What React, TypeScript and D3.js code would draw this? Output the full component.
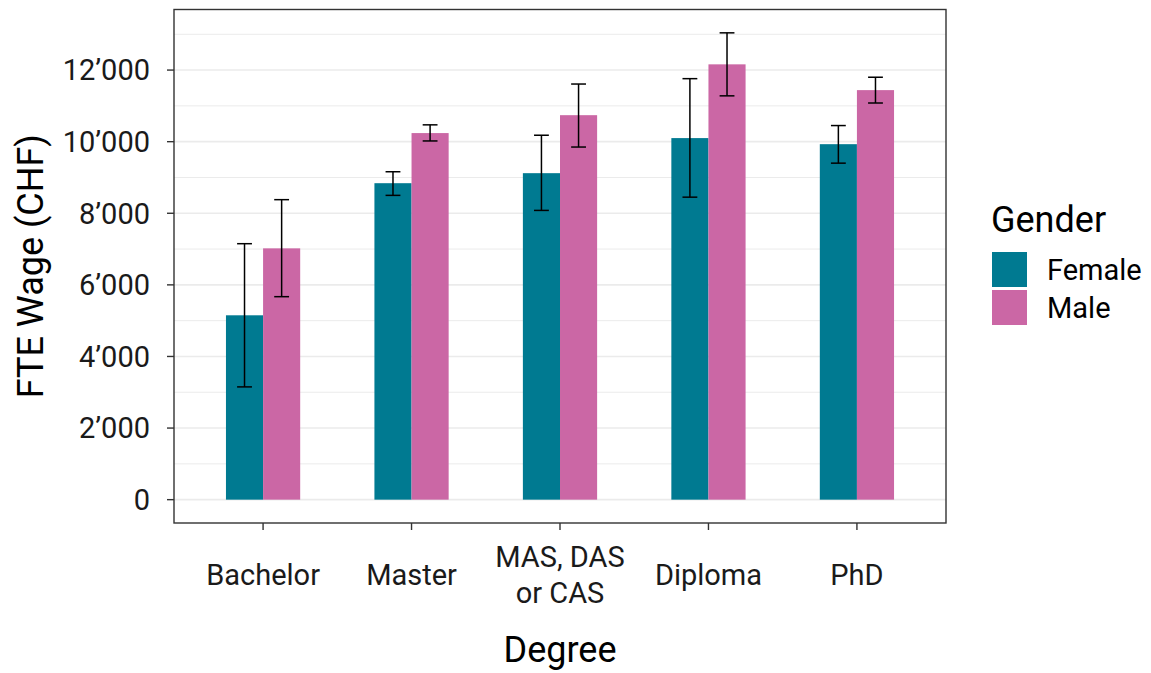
import React from "react";
import * as d3 from "d3";

const categories = ["Bachelor", "Master", "MAS, DAS\nor CAS", "Diploma", "PhD"];
const genders = ["Female", "Male"];
const genderColors = ["#007A91", "#CB67A5"];

const femaleMean = [5150, 8840, 9120, 10100, 9930];
const femaleLow = [3150, 8500, 8080, 8450, 9400];
const femaleHigh = [7150, 9160, 10180, 11760, 10450];

const maleMean = [7020, 10240, 10740, 12160, 11440];
const maleLow = [5670, 10020, 9850, 11280, 11080];
const maleHigh = [8380, 10470, 11610, 13040, 11800];

const yTicks = [0, 2000, 4000, 6000, 8000, 10000, 12000];
const yMinor = [1000, 3000, 5000, 7000, 9000, 11000, 13000];

const W = 1151;
const H = 673;
const panel = { left: 174, right: 946, top: 9.5, bottom: 523 };
const FONT = "Roboto, 'Noto Sans', sans-serif";

const locale = d3.formatLocale({ decimal: ".", thousands: "\u2019", grouping: [3], currency: ["", ""] });
const fmt = locale.format(",d");

export default function App() {
  const series = [
    { key: genders[0], mean: femaleMean, low: femaleLow, high: femaleHigh, color: genderColors[0] },
    { key: genders[1], mean: maleMean, low: maleLow, high: maleHigh, color: genderColors[1] },
  ];
  const dataMax = d3.max([...femaleHigh, ...maleHigh]) as number;
  const dataMin = 0;
  const span = dataMax - dataMin;
  const y = d3
    .scaleLinear()
    .domain([dataMin - 0.05 * span, dataMax + 0.05 * span])
    .range([panel.bottom, panel.top]);
  const x = d3.scalePoint<string>().domain(categories).range([panel.left, panel.right]).padding(0.6);
  const step = x.step();
  const inner = d3.scaleBand<string>().domain(genders).range([-0.25 * step, 0.25 * step]);
  const bw = inner.bandwidth();
  const whisker = 0.1 * step;

  return (
    <svg width={W} height={H} style={{ position: "absolute", left: 0, top: 0, background: "#fff" }} fontFamily={FONT}>
      <rect x={0} y={0} width={W} height={H} fill="#fff" />
      {/* grid */}
      {yMinor.map((t) => (
        <line key={"mi" + t} x1={panel.left} x2={panel.right} y1={y(t)} y2={y(t)} stroke="#EBEBEB" strokeWidth={1} />
      ))}
      {yTicks.map((t) => (
        <line key={"ma" + t} x1={panel.left} x2={panel.right} y1={y(t)} y2={y(t)} stroke="#EBEBEB" strokeWidth={1.6} />
      ))}
      {/* bars */}
      {series.map((s) =>
        categories.map((c, i) => {
          const cx = (x(c) as number) + (inner(s.key) as number);
          return (
            <rect
              key={s.key + c}
              x={cx}
              y={y(s.mean[i])}
              width={bw}
              height={y(0) - y(s.mean[i])}
              fill={s.color}
            />
          );
        })
      )}
      {/* error bars */}
      {series.map((s) =>
        categories.map((c, i) => {
          const cx = (x(c) as number) + (inner(s.key) as number) + bw / 2;
          return (
            <g key={"e" + s.key + c} stroke="#000" strokeWidth={1.5}>
              <line x1={cx} x2={cx} y1={y(s.low[i])} y2={y(s.high[i])} />
              <line x1={cx - whisker / 2} x2={cx + whisker / 2} y1={y(s.low[i])} y2={y(s.low[i])} />
              <line x1={cx - whisker / 2} x2={cx + whisker / 2} y1={y(s.high[i])} y2={y(s.high[i])} />
            </g>
          );
        })
      )}
      {/* panel border */}
      <rect
        x={panel.left}
        y={panel.top}
        width={panel.right - panel.left}
        height={panel.bottom - panel.top}
        fill="none"
        stroke="#333333"
        strokeWidth={1.4}
      />
      {/* y axis */}
      {yTicks.map((t) => (
        <g key={"yt" + t}>
          <line x1={panel.left - 7} x2={panel.left} y1={y(t)} y2={y(t)} stroke="#333333" strokeWidth={1.4} />
          <text x={panel.left - 24} y={y(t)} dy="0.355em" textAnchor="end" fontSize={29} fill="#1a1a1a">
            {fmt(t)}
          </text>
        </g>
      ))}
      {/* x axis */}
      {categories.map((c) => {
        const lines = c.split("\n");
        const lh = 36;
        const cy = 575;
        return (
          <g key={"xt" + c}>
            <line x1={x(c)} x2={x(c)} y1={panel.bottom} y2={panel.bottom + 7} stroke="#333333" strokeWidth={1.4} />
            {lines.map((l, j) => (
              <text
                key={j}
                x={x(c)}
                y={cy + (j - (lines.length - 1) / 2) * lh}
                dy="0.355em"
                textAnchor="middle"
                fontSize={29}
                fill="#1a1a1a"
              >
                {l}
              </text>
            ))}
          </g>
        );
      })}
      {/* axis titles */}
      <text x={(panel.left + panel.right) / 2} y={662} textAnchor="middle" fontSize={36} fill="#000">
        Degree
      </text>
      <text
        transform={`translate(${43},${(panel.top + panel.bottom) / 2}) rotate(-90)`}
        textAnchor="middle"
        fontSize={36}
        fill="#000"
      >
        FTE Wage (CHF)
      </text>
      {/* legend */}
      <text x={991} y={231.5} fontSize={36} fill="#000">
        Gender
      </text>
      {series.map((s, i) => (
        <g key={"lg" + s.key}>
          <rect x={992} y={252 + i * 38} width={35} height={35} fill={s.color} />
          <text x={1047} y={252 + i * 38 + 17.5} dy="0.355em" fontSize={29} fill="#000">
            {s.key}
          </text>
        </g>
      ))}
    </svg>
  );
}
